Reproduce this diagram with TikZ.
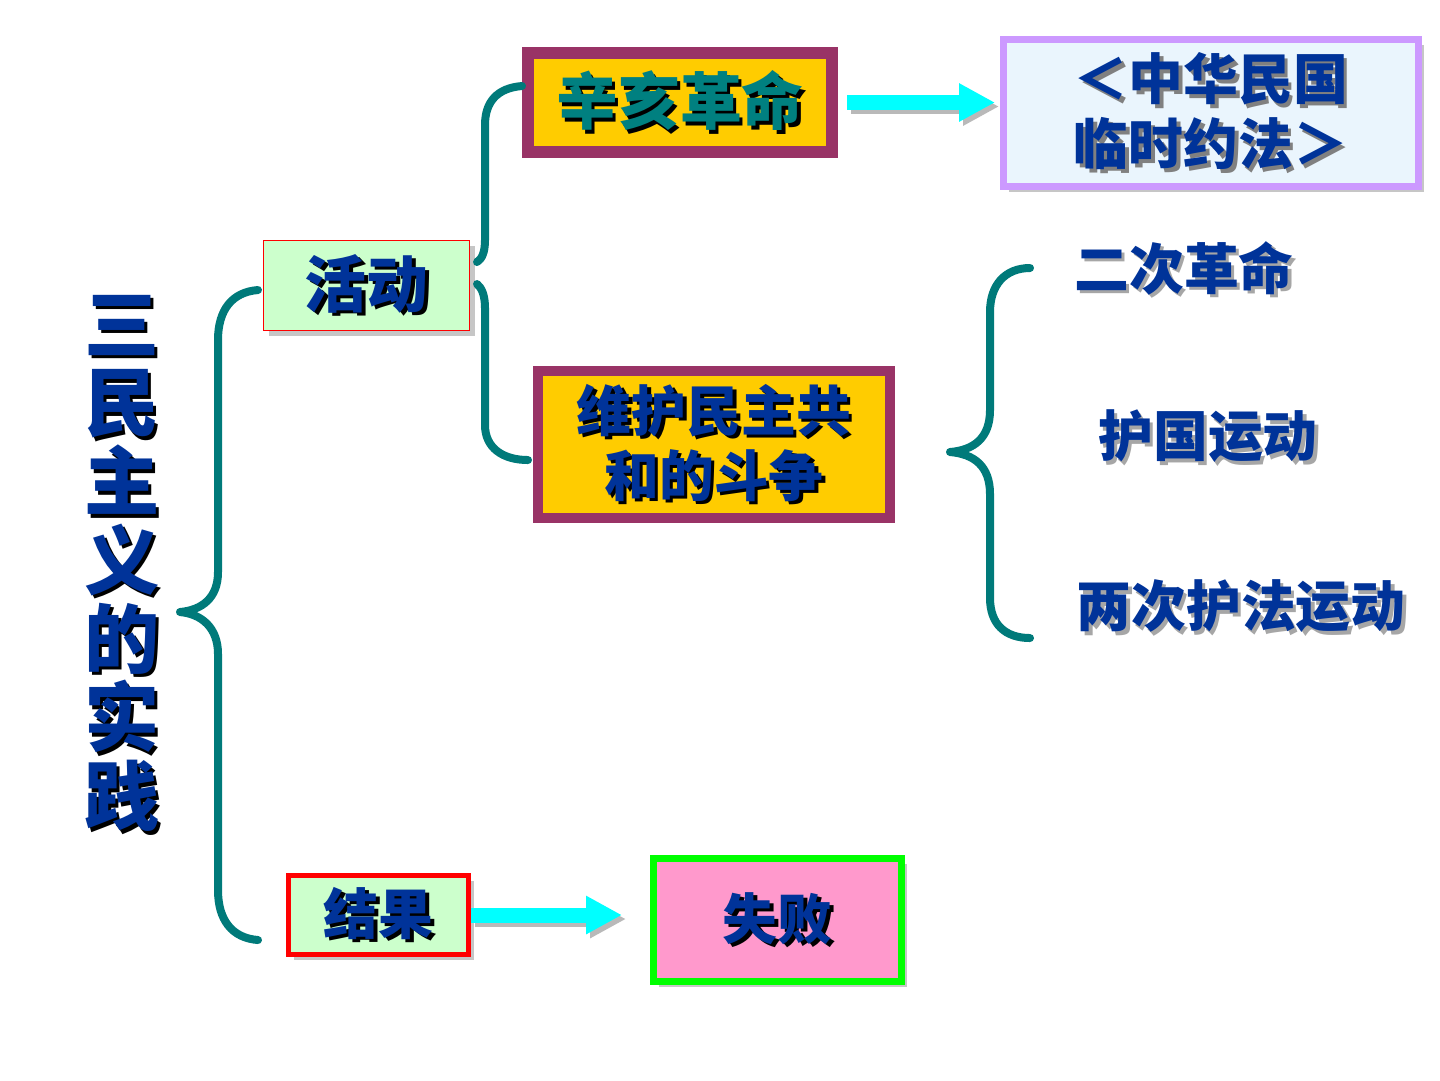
\documentclass[tikz,border=0pt]{standalone}
\usepackage{fontspec}
\setmainfont{Noto Sans CJK SC}
\usetikzlibrary{arrows.meta, shadows}
\definecolor{deepblue}{RGB}{0,51,153}
\definecolor{tealtext}{RGB}{0,128,128}
\definecolor{braceteal}{RGB}{0,122,122}
\definecolor{maroonline}{RGB}{153,51,102}
\definecolor{goldfill}{RGB}{255,204,0}
\definecolor{mintfill}{RGB}{204,255,204}
\definecolor{pinkfill}{RGB}{255,153,204}
\definecolor{lilacline}{RGB}{204,153,255}
\definecolor{icefill}{RGB}{234,245,253}
\definecolor{arrowcyan}{RGB}{0,255,255}
% text with a drop shadow
\newcommand{\stx}[3][black]{\leavevmode\rlap{\kern0.35mm\raisebox{-0.35mm}{\textcolor{#1}{#3}}}\textcolor{#2}{#3}}

\begin{document}
\begin{tikzpicture}[
  x=0.1mm, y=-0.1mm,
  box/.style={rectangle, draw, inner sep=0pt, align=center,
              font=\bfseries\fontsize{15.6pt}{18.5pt}\selectfont},
  gshadow/.style={drop shadow={shadow xshift=0.5mm, shadow yshift=-0.5mm,
              fill=gray!45, opacity=1}},
  label/.style={inner sep=0pt, font=\bfseries\fontsize{15.6pt}{18.5pt}\selectfont},
  brace/.style={draw=braceteal, line width=0.8mm, line cap=round, line join=round},
  fat/.style={line width=1.5mm, -{Triangle[length=3.6mm, width=3.6mm]}},
]
\fill[white] (0,0) rectangle (1440,1080);
\useasboundingbox (0,0) rectangle (1440,1080);

% title
\node[inner sep=0pt, align=center, font=\bfseries\fontsize{21.4pt}{22.4pt}\selectfont] (title) at (122,565)
  {\stx{deepblue}{三}\\\stx{deepblue}{民}\\\stx{deepblue}{主}\\\stx{deepblue}{义}\\\stx{deepblue}{的}\\\stx{deepblue}{实}\\\stx{deepblue}{践}};

% boxes
\node[box, draw=maroonline, fill=goldfill, line width=1.2mm,
      minimum width=30.4mm, minimum height=9.9mm,
      font=\bfseries\fontsize{17.6pt}{20pt}\selectfont] (xinhai) at (680,102.5) {\stx{tealtext}{辛亥革命}};
\node[box, gshadow, draw=lilacline, fill=icefill, line width=0.7mm,
      minimum width=41.5mm, minimum height=14.7mm] (yuefa) at (1211,113)
      {\stx[gray]{deepblue}{＜中华民国}\\\stx[gray]{deepblue}{临时约法＞}};
\node[box, gshadow, draw=red, fill=mintfill, line width=0.1mm,
      minimum width=20.6mm, minimum height=9.0mm,
      font=\bfseries\fontsize{17.6pt}{20pt}\selectfont] (huodong) at (366.5,285.5) {\stx{deepblue}{活动}};
\node[box, gshadow, draw=maroonline, fill=goldfill, line width=1.0mm,
      minimum width=35.2mm, minimum height=14.7mm] (weihu) at (714,444.5)
      {\stx{deepblue}{维护民主共}\\\stx{deepblue}{和的斗争}};
\node[box, gshadow, draw=red, fill=mintfill, line width=0.5mm,
      minimum width=18mm, minimum height=7.9mm] (jieguo) at (378.5,915) {\stx{deepblue}{结果}};
\node[box, gshadow, draw=green, fill=pinkfill, line width=0.7mm,
      minimum width=24.8mm, minimum height=12.3mm] (shibai) at (777.5,920) {\stx{deepblue}{失败}};

% struggles
\node[label] (erci) at (1184,270) {\stx[gray!70]{deepblue}{二次革命}};
\node[label] (huguo) at (1208,438) {\stx[gray!70]{deepblue}{护国运动}};
\node[label] (hufa) at (1241,608) {\stx[gray!70]{deepblue}{两次护法运动}};

% braces
\coordinate (bigtop) at (258,290);
\coordinate (bigtip) at (180,612);
\coordinate (bigbot) at (258,940);
\draw[brace] (bigtop) .. controls (232,292) and (218,310) .. (218,340) -- (218,572)
  .. controls (218,598) and (202,610) .. (bigtip)
  .. controls (202,614) and (218,628) .. (218,654) -- (218,890)
  .. controls (218,920) and (232,938) .. (bigbot);

\coordinate (midtop) at (522,86);
\coordinate (midtipa) at (477,262);
\coordinate (midtipb) at (477,284);
\coordinate (midbot) at (528,460);
\draw[brace] (midtop) .. controls (497,88) and (485,102) .. (485,125) -- (485,240)
  .. controls (485,252) and (482,259) .. (midtipa);
\draw[brace] (midtipb) .. controls (482,288) and (485,296) .. (485,308) -- (485,425)
  .. controls (485,448) and (503,460) .. (midbot);

\coordinate (righttop) at (1030,268);
\coordinate (righttip) at (950,452);
\coordinate (rightbot) at (1030,638);
\draw[brace] (righttop) .. controls (1005,268) and (990,285) .. (990,312) -- (990,410)
  .. controls (990,438) and (974,450) .. (righttip)
  .. controls (974,454) and (990,466) .. (990,494) -- (990,598)
  .. controls (990,624) and (1005,638) .. (rightbot);

% arrows
\draw[fat, gray!55, transform canvas={xshift=0.4mm, yshift=-0.4mm}, shorten <=0.9mm, shorten >=0.5mm]
  (xinhai.east) -- (xinhai.east -| yuefa.west);
\draw[fat, arrowcyan, shorten <=0.9mm, shorten >=0.5mm] (xinhai.east) -- (xinhai.east -| yuefa.west);
\draw[fat, gray!55, transform canvas={xshift=0.4mm, yshift=-0.4mm}, shorten >=2.8mm]
  (jieguo.east) -- (jieguo.east -| shibai.west);
\draw[fat, arrowcyan, shorten >=2.8mm] (jieguo.east) -- (jieguo.east -| shibai.west);
\end{tikzpicture}
\end{document}
